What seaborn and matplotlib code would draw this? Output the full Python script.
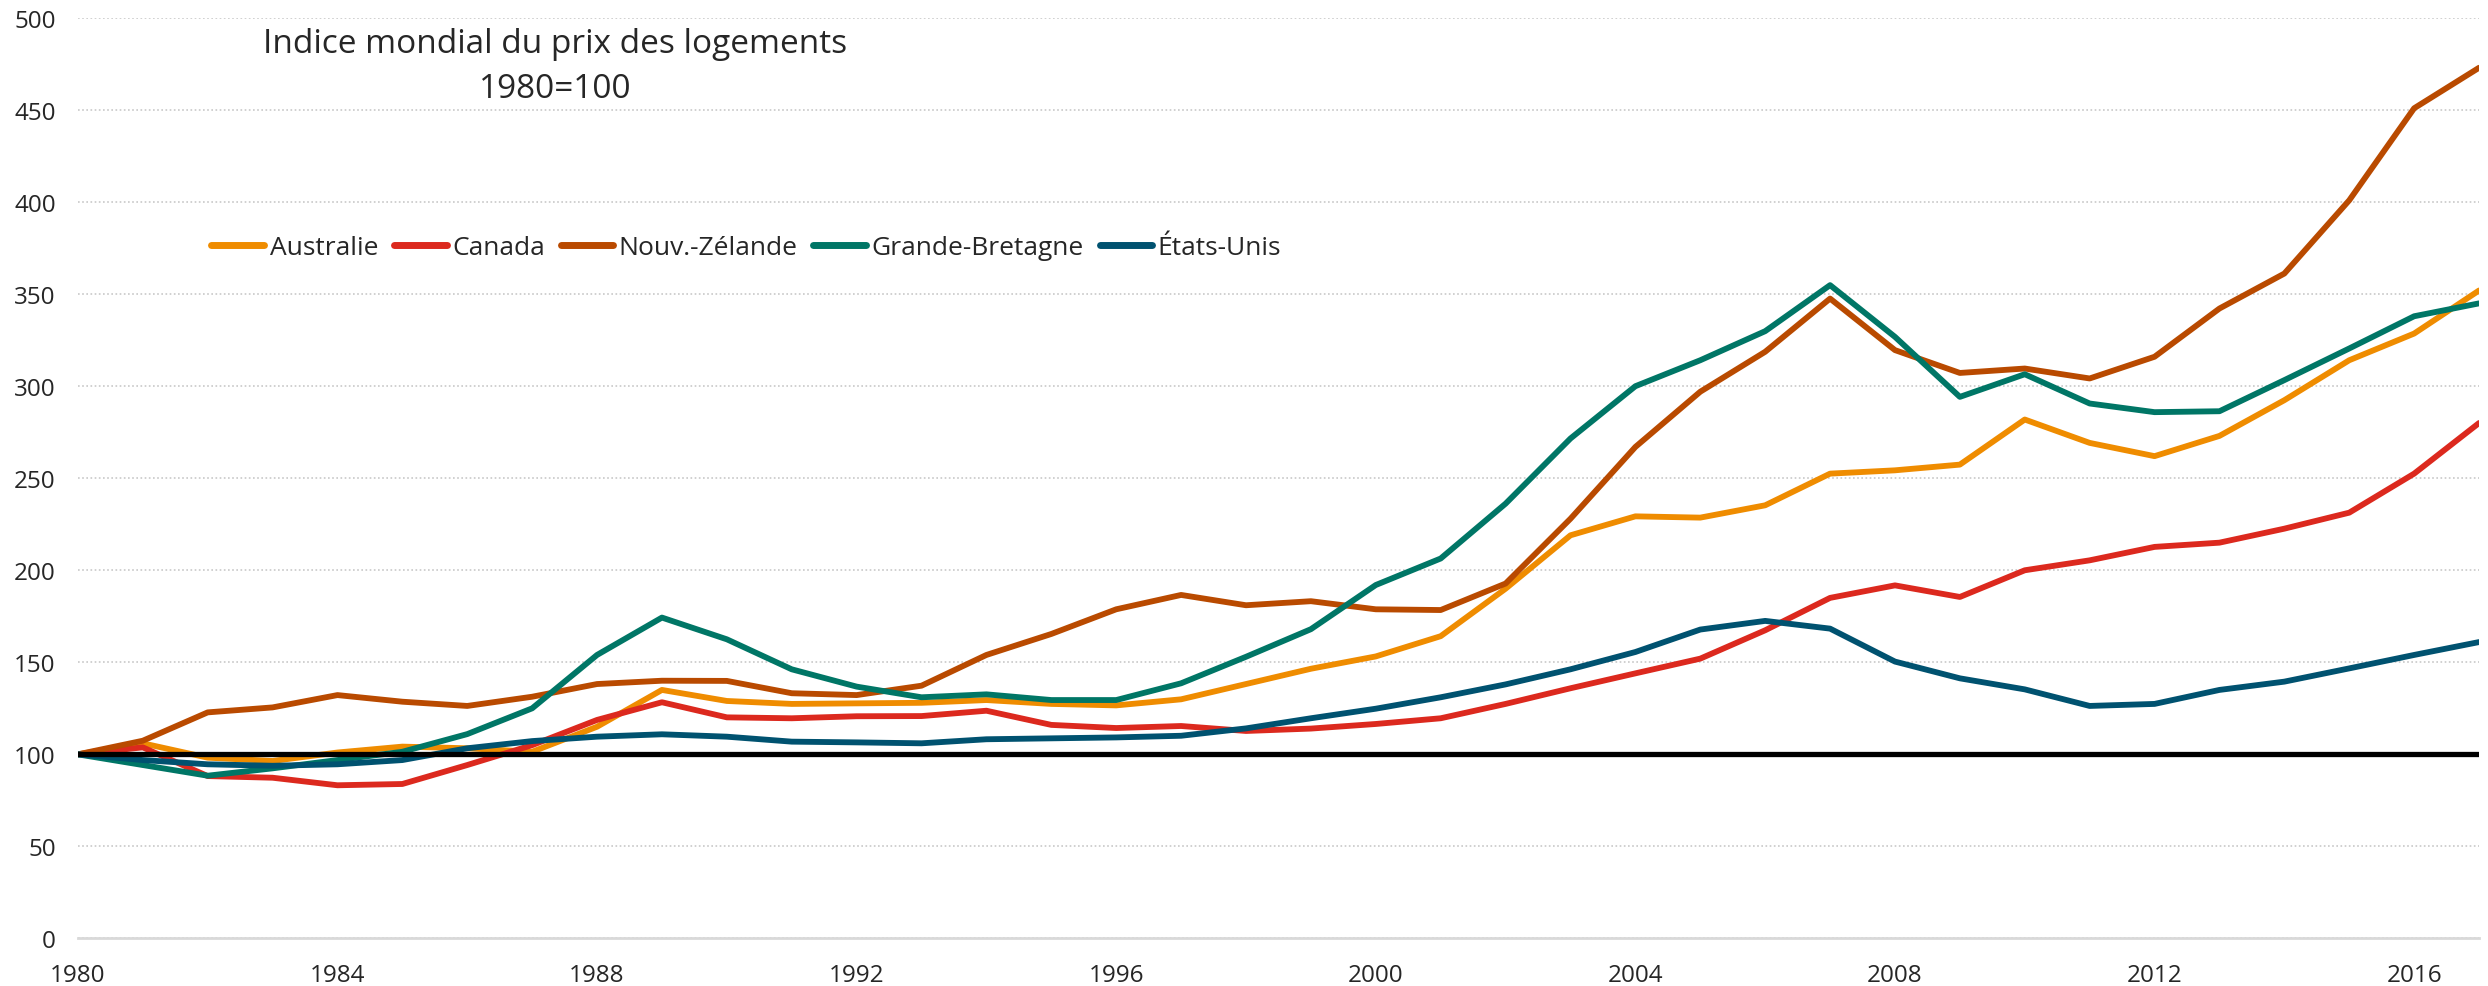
import matplotlib
matplotlib.use("Agg")
import matplotlib.pyplot as plt
from matplotlib.lines import Line2D
import seaborn as sns
import pandas as pd


# données (indice 1980=100)
years = list(range(1980, 2018))

australie = [100, 106, 98.2, 96.4, 101, 104.2, 103.3, 101.4, 115, 135,
             129, 127.4, 127.7, 128, 129.5, 127.4, 126.6, 129.9, 138.2, 146.5,
             153.2, 164.2, 190, 219, 229.3, 228.6, 235.3, 252.5, 254.3, 257.4,
             281.9, 269.2, 262, 273, 292.4, 314.1, 328.6, 352]

canada = [100, 103.8, 88.2, 87.3, 83.2, 83.9, 94.2, 105, 118.7, 128.3,
          120.1, 119.6, 120.7, 120.8, 123.7, 116, 114.3, 115.4, 112.7, 114,
          116.5, 119.6, 127.4, 135.9, 144, 152, 167.4, 185, 191.8, 185.5,
          200, 205.4, 212.7, 215, 222.6, 231.3, 252.5, 280]

nouv_zelande = [100, 107.4, 122.8, 125.5, 132.2, 128.6, 126.3, 131.3, 138.2, 140,
                139.9, 133.2, 132.2, 137.3, 154, 165.4, 178.8, 186.6, 181, 183.2,
                178.8, 178.4, 192.8, 228, 267, 297, 318.7, 347.6, 319.6, 307.2,
                309.6, 304.2, 316, 342.2, 361.2, 401, 451, 473]

grande_bretagne = [100, 94.2, 88.4, 92.4, 96.9, 101.4, 111, 125, 154, 174.3,
                   162.5, 146.2, 136.8, 131, 132.6, 129.5, 129.5, 138.6, 153, 168,
                   192, 206.4, 236.2, 271.6, 300, 314.1, 329.9, 354.9, 326.8, 294.2,
                   306.5, 290.6, 285.9, 286.4, 303.3, 320.5, 338, 345]

etats_unis = [100, 96.9, 94.6, 93.8, 94.6, 96.9, 103.3, 107.2, 109.6, 110.9,
              109.6, 106.9, 106.5, 106, 108.2, 108.7, 109.2, 110.1, 114.1, 119.6,
              124.8, 131, 138, 146.2, 155.6, 167.8, 172.5, 168.3, 150.4, 141.3,
              135.3, 126.3, 127.4, 135, 139.5, 146.7, 154, 161]

pays = ["Australie", "Canada", "Nouv.-Zélande", "Grande-Bretagne", "États-Unis"]
couleurs = ["#EF8C00", "#DC291E", "#B94A00", "#007666", "#005270"]

sns.set_style("white")
plt.rcParams['font.family'] = ['Open Sans', 'DejaVu Sans']

df = pd.DataFrame({
    "annee": years,
    "Australie": australie,
    "Canada": canada,
    "Nouv.-Zélande": nouv_zelande,
    "Grande-Bretagne": grande_bretagne,
    "États-Unis": etats_unis,
}).melt(id_vars="annee", var_name="pays", value_name="indice")

fig = plt.figure(figsize=(24.88, 9.87), dpi=100)
ax = fig.add_axes([0.0313, 0.0482, 0.9651, 0.9325])

sns.lineplot(data=df, x="annee", y="indice", hue="pays", hue_order=pays,
             palette=couleurs, linewidth=4.2, ax=ax, legend=False)
ax.axhline(100, color="black", lw=3.8, zorder=5)

ax.set_xlim(1980, 2017)
ax.set_ylim(0, 500)
ax.set_xticks(range(1980, 2017, 4))
ax.set_yticks(range(0, 501, 50))
ax.set_xlabel("")
ax.set_ylabel("")
ax.grid(axis="y", linestyle=(0, (1, 1.5)), color="#c8c8c8", lw=1.2)
ax.grid(axis="x", visible=False)
for s in ["top", "right", "left"]:
    ax.spines[s].set_visible(False)
ax.spines["bottom"].set_color("#d9d9d9")
ax.spines["bottom"].set_linewidth(2)
ax.tick_params(axis="x", direction="inout", length=14, width=1.5, color="#d9d9d9",
               labelsize=17.5, pad=11)
ax.tick_params(axis="y", length=0, labelsize=17.5, pad=16)

handles = [Line2D([0], [0], color=c, lw=5, solid_capstyle="round") for c in couleurs]
fig.legend(handles, pays, loc="center left", bbox_to_anchor=(0.085, 0.748),
           ncol=5, frameon=False, fontsize=19, handlelength=2.0, handletextpad=0.2,
           columnspacing=0.6, borderpad=0, borderaxespad=0)

fig.text(0.223, 0.955, "Indice mondial du prix des logements", ha="center", va="center", fontsize=24)
fig.text(0.223, 0.909, "1980=100", ha="center", va="center", fontsize=24)

fig.savefig("out.png", dpi=100)
